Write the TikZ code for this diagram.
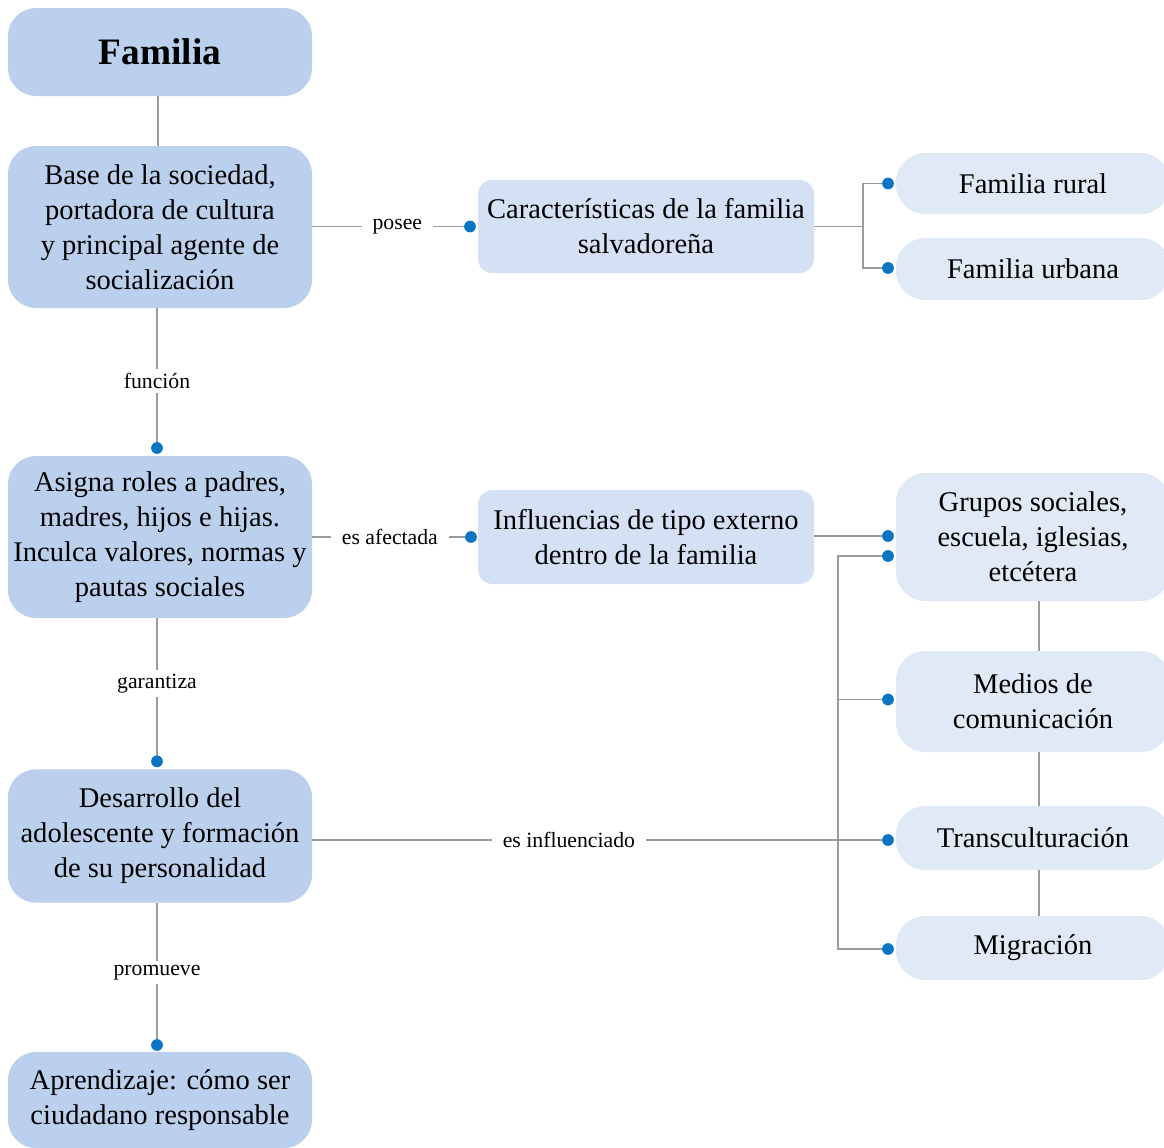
\documentclass[tikz,border=0pt]{standalone}
\usepackage{fontspec}
\setmainfont{Liberation Serif}
\usetikzlibrary{calc}
\definecolor{boxA}{HTML}{BBD0EC}
\definecolor{boxB}{HTML}{D4E1F4}
\definecolor{boxC}{HTML}{E0E9F6}
\definecolor{lineg}{HTML}{9B9B9B}
\definecolor{dotc}{HTML}{0B74C3}
\begin{document}
\begin{tikzpicture}[x=0.75pt,y=-0.75pt,
  basebox/.style={rectangle,inner sep=0pt,outer sep=0pt,align=center,
    font=\fontsize{21.4}{26.3}\selectfont},
  mainbox/.style={basebox,fill=boxA,rounded corners=21pt,minimum width=228pt},
  midbox/.style={basebox,fill=boxB,rounded corners=11pt,minimum width=252pt},
  sidebox/.style={basebox,fill=boxC,rounded corners=22pt,minimum width=205.5pt},
  conn/.style={draw=lineg,line width=1pt},
  lbl/.style={fill=white,inner xsep=8pt,inner ysep=3pt,font=\fontsize{16.3}{19}\selectfont},
  vlbl/.style={fill=white,inner xsep=2pt,inner ysep=3pt,font=\fontsize{16.3}{19}\selectfont},
  dotfill/.style={fill=dotc}
]
\clip (0,0) rectangle (1164,1147);
\fill[white] (0,0) rectangle (1164,1147);

% left column
\node[mainbox,minimum height=66pt,font=\fontsize{28}{32}\selectfont\bfseries] (fam) at (160,52) {Familia};
\node[mainbox,minimum height=121.5pt] (base) at (160,227) {Base de la sociedad,\\portadora de cultura\\y principal agente de\\socialización};
\node[mainbox,minimum height=121.5pt] (asig) at (160,537) {Asigna roles a padres,\\madres, hijos e hijas.\\Inculca valores, normas y\\pautas sociales};
\node[mainbox,minimum height=100pt] (desa) at (160,836) {Desarrollo del\\adolescente y formación\\de su personalidad};
\node[mainbox,minimum height=72pt] (apre) at (160,1100) {Aprendizaje: cómo ser\\ciudadano responsable};

% middle column
\node[midbox,minimum height=70pt] (car) at (646,226.5) {Características de la familia\\salvadoreña};
\node[midbox,minimum height=70.5pt] (inf) at (646,537) {Influencias de tipo externo\\dentro de la familia};

% right column
\node[sidebox,minimum height=45.75pt] (rural) at (1033,183.5) {Familia rural};
\node[sidebox,minimum height=46.5pt] (urb) at (1033,269) {Familia urbana};
\node[sidebox,minimum height=96pt] (grup) at (1033,537) {Grupos sociales,\\escuela, iglesias,\\etcétera};
\node[sidebox,minimum height=75.75pt] (med) at (1033,701.5) {Medios de\\comunicación};
\node[sidebox,minimum height=48pt] (tra) at (1033,838) {Transculturación};
\node[sidebox,minimum height=48pt] (mig) at (1033,948) {Migración};

% dot coordinates
\coordinate (dCar) at ([xshift=-6pt]car.west);
\coordinate (dInf) at ([xshift=-5.25pt]inf.west);
\coordinate (dAsig) at ([xshift=-2.25pt,yshift=6pt]asig.north);
\coordinate (dDesa) at ([xshift=-2.25pt,yshift=6pt]desa.north);
\coordinate (dApre) at ([xshift=-2.25pt,yshift=5.25pt]apre.north);
\coordinate (dRur) at ([xshift=-6pt]rural.west);
\coordinate (dUrb) at ([xshift=-6pt,yshift=0.75pt]urb.west);
\coordinate (dG1) at ([xshift=-6pt,yshift=0.75pt]grup.west);
\coordinate (dG2) at ([xshift=-6pt,yshift=-14.25pt]grup.west);
\coordinate (dMed) at ([xshift=-6pt,yshift=1.5pt]med.west);
\coordinate (dTra) at ([xshift=-6pt,yshift=-1.5pt]tra.west);
\coordinate (dMig) at ([xshift=-6pt,yshift=-0.75pt]mig.west);

% left vertical connectors
\draw[conn] ([xshift=-1.5pt]fam.south) -- ([xshift=-1.5pt]base.north);
\draw[conn] ([xshift=-2.25pt]base.south) -- node[vlbl,pos=0.52]{función} (dAsig);
\draw[conn] ([xshift=-2.25pt]asig.south) -- node[vlbl,pos=0.46]{garantiza} (dDesa);
\draw[conn] ([xshift=-2.25pt]desa.south) -- node[vlbl,pos=0.49]{promueve} (dApre);

% horizontal connectors
\draw[conn] (base.east |- dCar) -- node[lbl,pos=0.54]{posee} (dCar);
\draw[conn] (asig.east |- dInf) -- node[lbl,pos=0.49]{es afectada} (dInf);
\draw[conn] (desa.east |- dTra) -- node[lbl,pos=0.446]{es influenciado} (dTra);

% bracket to rural / urban
\coordinate (jCar) at ($(car.east)+(49,0)$);
\draw[conn] (car.east) -- (jCar);
\draw[conn] (dRur) -| (jCar) |- (dUrb);

% influencias to grupos
\draw[conn] (inf.east |- dG1) -- (dG1);

% trunk
\coordinate (tTop) at ($(dG2)+(-50,0)$);
\draw[conn] (dG2) -- (tTop) |- (dMig);
\draw[conn] (tTop |- dMed) -- (dMed);

% right column vertical links
\draw[conn] ([xshift=4.5pt]grup.south) -- ([xshift=4.5pt]med.north);
\draw[conn] ([xshift=4.5pt]med.south) -- ([xshift=4.5pt]tra.north);
\draw[conn] ([xshift=4.5pt]tra.south) -- ([xshift=4.5pt]mig.north);

% dots
\foreach \d in {dCar,dInf,dAsig,dDesa,dApre,dRur,dUrb,dG1,dG2,dMed,dTra,dMig}
  \fill[dotfill] (\d) circle[radius=4.4pt];
\end{tikzpicture}
\end{document}
